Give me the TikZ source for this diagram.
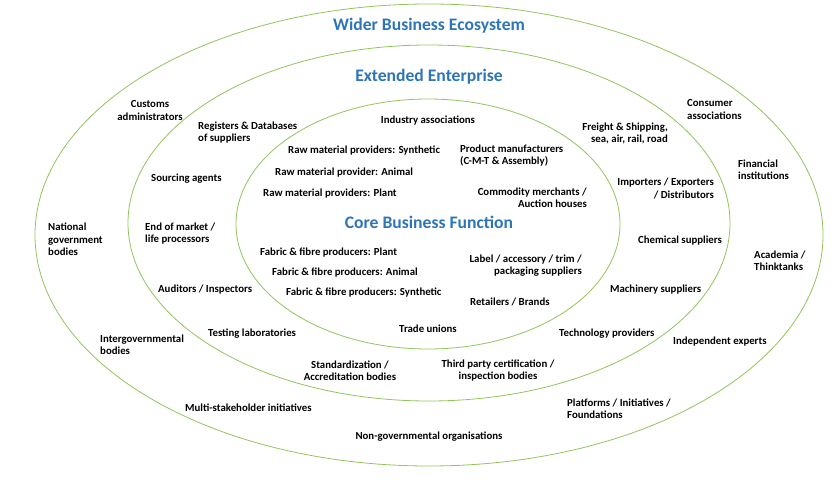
\documentclass[tikz,border=0pt]{standalone}
\usepackage{fontspec}
\setmainfont{Carlito}
\definecolor{ringgreen}{RGB}{146,196,92}
\definecolor{titleblue}{RGB}{46,117,182}
\tikzset{
  ring/.style={draw=ringgreen, line width=0.8pt},
  title/.style={font=\bfseries\fontsize{17.6}{20}\selectfont, text=titleblue, inner sep=0pt},
  lbl/.style={font=\bfseries\fontsize{10.8}{12.4}\selectfont, inner sep=0pt, align=center, yshift=-1.5pt},
  lbll/.style={lbl, align=left},
  lblr/.style={lbl, align=right},
}
\begin{document}
\begin{tikzpicture}[x=1pt,y=-1pt]
    \useasboundingbox (0,0) rectangle (840,484);
    % the three rings
    \draw[ring] (429,235) ellipse [x radius=394, y radius=231];
    \draw[ring] (429,223) ellipse [x radius=301, y radius=178];
    \draw[ring] (428,224) ellipse [x radius=192, y radius=125];
    % titles
    \node[title] (wider) at (429,26) {Wider Business Ecosystem};
    \node[title] (extended) at (429,77) {Extended Enterprise};
    \node[title] (core) at (429,222) {Core Business Function};
    % core
    \node[lbl] (industry) at (428,119) {Industry associations};
    \node[lbl, anchor=west] (rawsyn) at (288,149) {Raw material providers: Synthetic};
    \node[lbl, anchor=west] (rawani) at (275,171) {Raw material provider: Animal};
    \node[lbl, anchor=west] (rawpla) at (263,192) {Raw material providers: Plant};
    \node[lbll, anchor=west] (product) at (460,154) {Product manufacturers\\(C-M-T \& Assembly)};
    \node[lblr, anchor=east] (commodity) at (587,196) {Commodity merchants /\\Auction houses};
    \node[lbl, anchor=west] (fabpla) at (260,251) {Fabric \& fibre producers: Plant};
    \node[lbl, anchor=west] (fabani) at (272,271) {Fabric \& fibre producers: Animal};
    \node[lbl, anchor=west] (fabsyn) at (286,291) {Fabric \& fibre producers: Synthetic};
    \node[lblr, anchor=east] (label) at (582,264) {Label / accessory / trim /\\packaging suppliers};
    \node[lbl, anchor=west] (retail) at (470,300) {Retailers / Brands};
    \node[lbl] (trade) at (428,327) {Trade unions};
    % extended enterprise
    \node[lbll, anchor=west] (registers) at (198,131) {Registers \& Databases\\of suppliers};
    \node[lbl, anchor=west] (sourcing) at (151,177) {Sourcing agents};
    \node[lbll, anchor=west] (endmarket) at (145,232) {End of market /\\life processors};
    \node[lbl, anchor=west] (auditors) at (158,288) {Auditors / Inspectors};
    \node[lbl, anchor=west] (testing) at (208,332) {Testing laboratories};
    \node[lbl] (standard) at (350,369) {Standardization /\\Accreditation bodies};
    \node[lbl] (thirdparty) at (498,369) {Third party certification /\\inspection bodies};
    \node[lbl, anchor=west] (technology) at (559,332) {Technology providers};
    \node[lbl, anchor=west] (machinery) at (610,288) {Machinery suppliers};
    \node[lbl, anchor=west] (chemical) at (638,239) {Chemical suppliers};
    \node[lblr, anchor=east] (importers) at (714,187) {Importers / Exporters\\/ Distributors};
    \node[lblr, anchor=east] (freight) at (668,132) {Freight \& Shipping,\\sea, air, rail, road};
    % wider business ecosystem
    \node[lbl] (customs) at (150,109) {Customs\\administrators};
    \node[lbll, anchor=west] (national) at (48,238) {National\\government\\bodies};
    \node[lbll, anchor=west] (intergov) at (100,343) {Intergovernmental\\bodies};
    \node[lbl, anchor=west] (multi) at (185,406) {Multi-stakeholder initiatives};
    \node[lbl] (ngo) at (429,435) {Non-governmental organisations};
    \node[lbll, anchor=west] (platforms) at (567,407) {Platforms / Initiatives /\\Foundations};
    \node[lbl, anchor=west] (independent) at (673,340) {Independent experts};
    \node[lbll, anchor=west] (academia) at (754,259) {Academia /\\Thinktanks};
    \node[lbll, anchor=west] (financial) at (738,168) {Financial\\institutions};
    \node[lbll, anchor=west] (consumer) at (687,108) {Consumer\\associations};
\end{tikzpicture}
\end{document}
